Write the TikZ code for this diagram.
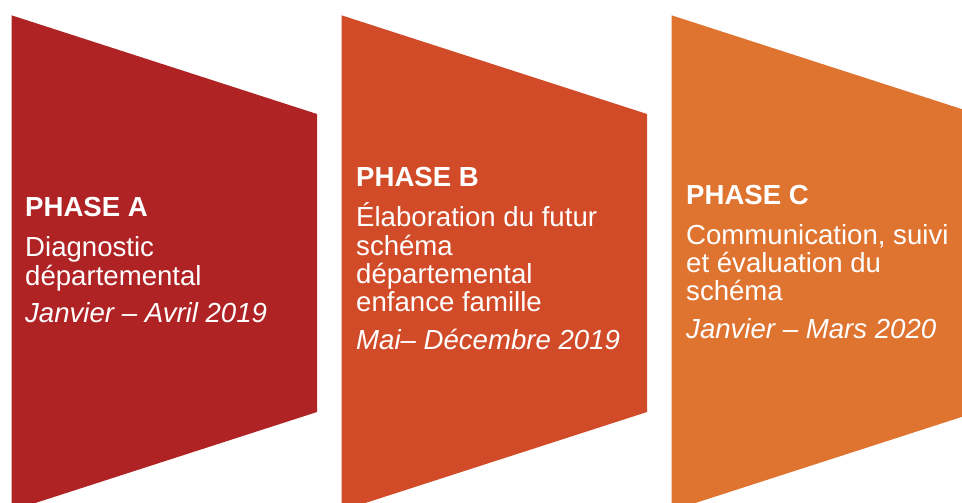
\documentclass[tikz,border=0pt]{standalone}
\usepackage{fontspec}
\setmainfont{Liberation Sans}
\usepackage{xcolor}
\usepackage{tikz}

\definecolor{rougeA}{RGB}{176,35,36}
\definecolor{rougeB}{RGB}{210,75,40}
\definecolor{orangeC}{RGB}{223,115,48}

\tikzset{
    phasetxt/.style={anchor=base west, inner sep=0pt, text=white, align=left,
        font=\fontsize{27.6}{28.3}\selectfont}
}

\begin{document}
\begin{tikzpicture}[x=1pt, y=-1pt]
            \clip (0, 0) rectangle (962, 503);

            \foreach \i/\c in {0/rougeA, 1/rougeB, 2/orangeC} {
                \fill[\c] (11.5+330*\i, 15.3) -- (317+330*\i, 114)
                    -- (317+330*\i, 412) -- (11.5+330*\i, 510.7) -- cycle;
            }

            % base = baseline of the last line (the dates)
            \node[phasetxt] (pA) at (25, 322.7) {\textbf{PHASE A}\\[11.7pt]
                Diagnostic\\départemental\\[9.4pt]
                \textit{Janvier – Avril 2019}};
            \node[phasetxt] (pB) at (356, 349.3) {\textbf{PHASE B}\\[11.7pt]
                Élaboration du futur\\schéma\\départemental\\enfance famille\\[9.4pt]
                \textit{Mai– Décembre 2019}};
            \node[phasetxt] (pC) at (686, 338.3) {\textbf{PHASE C}\\[11.7pt]
                Communication, suivi\\et évaluation du\\schéma\\[9.4pt]
                \textit{Janvier – Mars 2020}};
        \end{tikzpicture}
\end{document}
